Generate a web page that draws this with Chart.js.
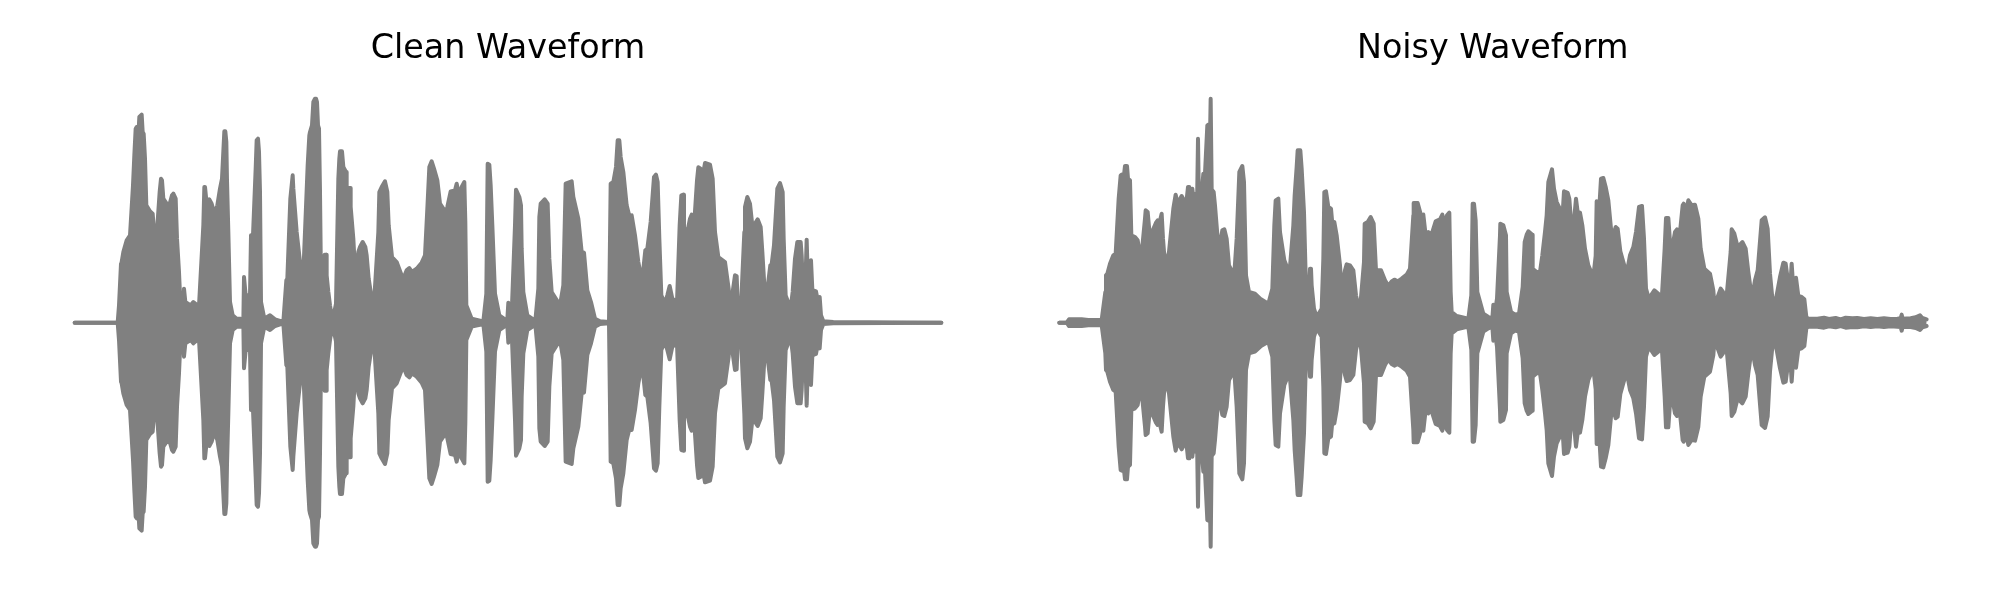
<!DOCTYPE html>
<html>
<head>
<meta charset="utf-8">
<title>Waveforms</title>
<script src="https://cdn.jsdelivr.net/npm/chart.js@4/dist/chart.umd.min.js"></script>
<style>
  html, body { margin: 0; padding: 0; background: #fff; }
  #wrap { display: flex; width: 2000px; height: 600px; }
  canvas { display: block; }
</style>
</head>
<body>
<div id="wrap">
  <canvas id="graficaClean" width="1000" height="600"></canvas>
  <canvas id="graficaNoisy" width="1000" height="600"></canvas>
</div>
<script>
// Envelope of each waveform: [time, amplitude]

const cleanEnvelope = [
  [6,0],[135,0],[139,52],[145,177],[147,182],[152,212],[162,247],[172,262],[181,412],[185,502],[189,582],[192,587],[197,562],[200,617],[207,624],[210,572],[213,567],[217,492],[221,352],[232,334],[240,327],[245,262],[250,232],[261,392],[265,432],[268,427],[272,372],[282,357],[287,342],[298,382],[302,387],[309,372],[313,252],[319,152],[323,62],[332,60],[334,102],[336,102],[338,62],[354,52],[362,62],[374,52],[378,32],[392,292],[395,407],[397,407],[402,357],[410,370],[417,357],[425,327],[434,352],[442,402],[448,432],[455,574],[458,574],[461,542],[463,427],[467,272],[472,62],[480,22],[492,12],[504,12],[510,2],[512,2],[514,137],[516,137],[519,82],[527,82],[532,82],[535,262],[541,262],[549,462],[552,547],[556,552],[559,512],[562,392],[565,62],[575,12],[592,22],[607,10],[632,2],[641,127],[644,132],[653,372],[657,412],
  [660,442],[662,402],[672,272],[682,182],[692,147],[705,472],[710,562],[712,572],[718,592],[722,662],[727,672],[730,672],[733,662],[736,592],[739,582],[742,392],[745,122],[752,122],[756,204],[761,204],[762,142],[767,92],[772,52],[778,12],[787,42],[790,57],[797,432],[800,492],[802,514],[808,514],[812,467],[820,452],[822,374],[826,380],[829,404],[832,404],[834,347],[842,252],[848,137],[857,212],[862,227],[870,242],[878,227],[882,202],[888,132],[898,67],[904,57],[917,272],[920,392],[927,407],[937,424],[944,392],[948,292],[958,197],[972,182],[987,142],[994,137],[1002,157],[1010,164],[1018,152],[1032,162],[1047,180],[1057,202],[1064,342],[1070,467],[1077,484],[1084,462],[1094,427],[1102,357],[1112,342],[1118,324],[1124,347],[1134,394],[1147,397],[1152,417],[1159,382],[1167,407],[1175,422],[1178,300],[1181,52],[1197,12],[1232,4],[1241,87],[1245,477],[1250,474],[1254,412],[1259,292],[1267,87],[1280,22],[1297,10],[1304,10],[1307,60],[1310,20],
  [1312,32],[1318,52],[1327,292],[1330,399],[1340,377],[1345,352],[1347,222],[1352,92],[1364,22],[1382,10],[1388,6],[1397,102],[1400,317],[1404,357],[1416,370],[1425,357],[1430,192],[1437,92],[1462,52],[1472,112],[1475,242],[1479,417],[1497,424],[1502,377],[1517,312],[1527,212],[1534,210],[1544,97],[1555,62],[1567,12],[1582,4],[1609,2],[1614,417],[1622,422],[1630,467],[1635,547],[1640,547],[1644,497],[1652,452],[1662,352],[1670,320],[1677,322],[1687,262],[1697,182],[1708,122],[1718,217],[1724,222],[1734,302],[1744,437],[1750,444],[1755,422],[1760,252],[1766,82],[1777,57],[1784,82],[1791,110],[1799,72],[1807,67],[1812,32],[1821,292],[1826,382],[1832,384],[1834,287],[1842,262],[1852,312],[1857,324],[1864,287],[1873,427],[1877,466],[1884,462],[1888,427],[1897,479],[1912,474],[1920,432],[1927,272],[1937,197],[1957,182],[1968,102],
  [1972,37],[1980,92],[1987,142],[1992,140],[1996,32],[2004,27],[2015,272],[2017,347],[2024,377],[2032,357],[2040,282],[2047,297],[2055,310],[2064,287],[2069,212],[2075,112],[2085,107],[2093,172],[2097,175],[2104,232],[2114,402],[2122,419],[2130,392],[2133,252],[2139,82],[2150,52],[2155,52],[2160,92],[2167,192],[2174,242],[2184,242],[2187,202],[2191,102],[2198,105],[2202,249],[2206,110],[2211,105],[2215,187],[2219,100],[2222,97],[2230,94],[2235,67],[2241,77],[2245,22],[2252,4],[2282,2],[2606,0]
];

const noisyEnvelope = [
  [6,0],[28,0],[35,10],[73,10],[93,8],[133,8],[144,92],[146,142],[150,147],[158,177],[168,202],[175,207],[184,372],[190,442],[193,444],[198,424],[203,470],[209,470],[212,432],[218,427],[222,262],[233,257],[241,247],[251,187],[263,312],[265,337],[271,332],[276,277],[285,274],[296,300],[301,307],[307,302],[313,327],[317,252],[322,187],[328,187],[335,212],[348,342],[355,384],[361,357],[373,380],[380,367],[382,312],[392,407],[396,407],[400,352],[405,402],[410,357],[415,387],[419,345],[422,552],[425,345],[431,362],[438,447],[443,447],[450,592],[453,594],[457,500],[460,672],[463,400],[469,392],[473,352],[481,252],[488,237],[495,277],[501,280],[508,252],[515,172],[523,157],[531,147],[538,252],[546,452],[555,470],[560,422],[566,142],[575,92],[593,87],[611,70],[633,57],[645,102],[651,292],[655,367],
  [663,372],[668,272],[681,187],[691,162],[698,167],[708,292],[712,382],[718,467],[721,517],[729,517],[733,462],[740,332],[746,102],[755,102],[758,162],[761,162],[763,112],[770,42],[778,17],[793,42],[798,192],[801,392],[806,394],[813,347],[821,342],[825,297],[831,302],[838,262],[848,172],[853,97],[863,157],[868,175],[878,172],[888,157],[896,82],[903,52],[909,52],[920,182],[922,297],[931,302],[940,317],[949,297],[956,157],[971,157],[983,127],[993,110],[1003,124],[1011,129],[1021,124],[1033,132],[1048,144],[1058,162],[1068,322],[1069,359],[1081,359],[1091,322],[1098,324],[1105,262],[1113,272],[1119,260],[1125,272],[1135,304],[1148,310],[1155,324],[1161,297],[1169,322],[1176,330],[1180,92],[1183,32],[1198,20],[1233,12],[1242,82],[1246,357],[1250,357],[1255,307],[1260,92],[1278,27],[1293,17],[1305,12],[1308,54],
  [1313,32],[1319,72],[1328,262],[1329,297],[1338,292],[1346,262],[1348,92],[1361,32],[1373,24],[1385,27],[1396,107],[1402,242],[1408,264],[1413,274],[1425,264],[1426,162],[1438,152],[1448,152],[1455,202],[1463,272],[1468,322],[1473,422],[1484,460],[1490,402],[1498,362],[1510,337],[1516,327],[1520,394],[1524,392],[1526,332],[1531,390],[1536,372],[1540,317],[1551,317],[1556,372],[1561,332],[1568,330],[1575,292],[1583,222],[1593,172],[1608,137],[1615,200],[1618,364],[1622,277],[1631,432],[1638,434],[1645,407],[1653,367],[1661,282],[1668,262],[1675,287],[1681,282],[1689,214],[1698,182],[1708,147],[1718,202],[1728,227],[1736,272],[1745,347],[1754,350],[1760,252],[1766,102],[1773,77],[1781,82],[1791,97],[1803,87],[1813,67],[1822,222],[1826,314],[1833,314],[1838,242],[1845,227],[1853,272],[1859,280],[1867,262],[1876,352],[1879,357],[1885,324],[1893,367],[1903,352],[1913,354],[1923,312],[1930,222],[1941,162],[1958,147],[1968,97],
  [1973,32],[1981,77],[1990,102],[1997,92],[2003,27],[2009,92],[2020,212],[2023,280],[2031,267],[2041,227],[2055,242],[2065,222],[2073,152],[2081,92],[2087,92],[2093,127],[2101,157],[2113,307],[2123,316],[2131,282],[2138,147],[2148,42],[2158,82],[2168,137],[2178,180],[2185,177],[2191,132],[2197,77],[2203,177],[2209,87],[2216,135],[2223,80],[2233,77],[2241,70],[2247,17],[2253,12],[2280,12],[2300,15],[2315,11],[2335,14],[2350,10],[2365,15],[2385,13],[2400,14],[2420,11],[2440,13],[2460,11],[2480,13],[2500,11],[2520,12],[2530,13],[2533,24],[2536,12],[2560,13],[2575,16],[2588,22],[2595,14],[2608,10]
];

const titles = ['Clean Waveform', 'Noisy Waveform'];
const timeMax = 2612;
const ampMax = 674;

const gris = '#808080';

function mitad(envolvente, signo, relleno) {
  return {
    data: envolvente.map(p => ({ x: p[0], y: signo * p[1] })),
    borderColor: gris,
    backgroundColor: gris,
    borderWidth: 4,
    borderCapStyle: 'round',
    borderJoinStyle: 'round',
    pointRadius: 0,
    tension: 0,
    fill: relleno,
    clip: false
  };
}

function grafica(id, titulo, envolvente, padLeft, padRight) {
  return new Chart(document.getElementById(id), {
    type: 'line',
    data: {
      datasets: [mitad(envolvente, 1, '+1'), mitad(envolvente, -1, false)]
    },
    options: {
      responsive: false,
      animation: false,
      layout: { padding: { left: padLeft, right: padRight, top: 0, bottom: 52.67 } },
      scales: {
        x: { type: 'linear', display: false, min: 0, max: timeMax },
        y: { type: 'linear', display: false, min: -ampMax, max: ampMax }
      },
      plugins: {
        legend: { display: false },
        tooltip: { enabled: false },
        title: {
          display: true,
          text: titulo,
          color: '#000',
          font: { family: '"DejaVu Sans"', size: 33.33, weight: 'normal', lineHeight: 1.2 },
          padding: { top: 29, bottom: 29 }
        }
      }
    }
  });
}

grafica('graficaClean', titles[0], cleanEnvelope, 72.67, 56.67);
grafica('graficaNoisy', titles[1], noisyEnvelope, 57.33, 72);
</script>
</body>
</html>
